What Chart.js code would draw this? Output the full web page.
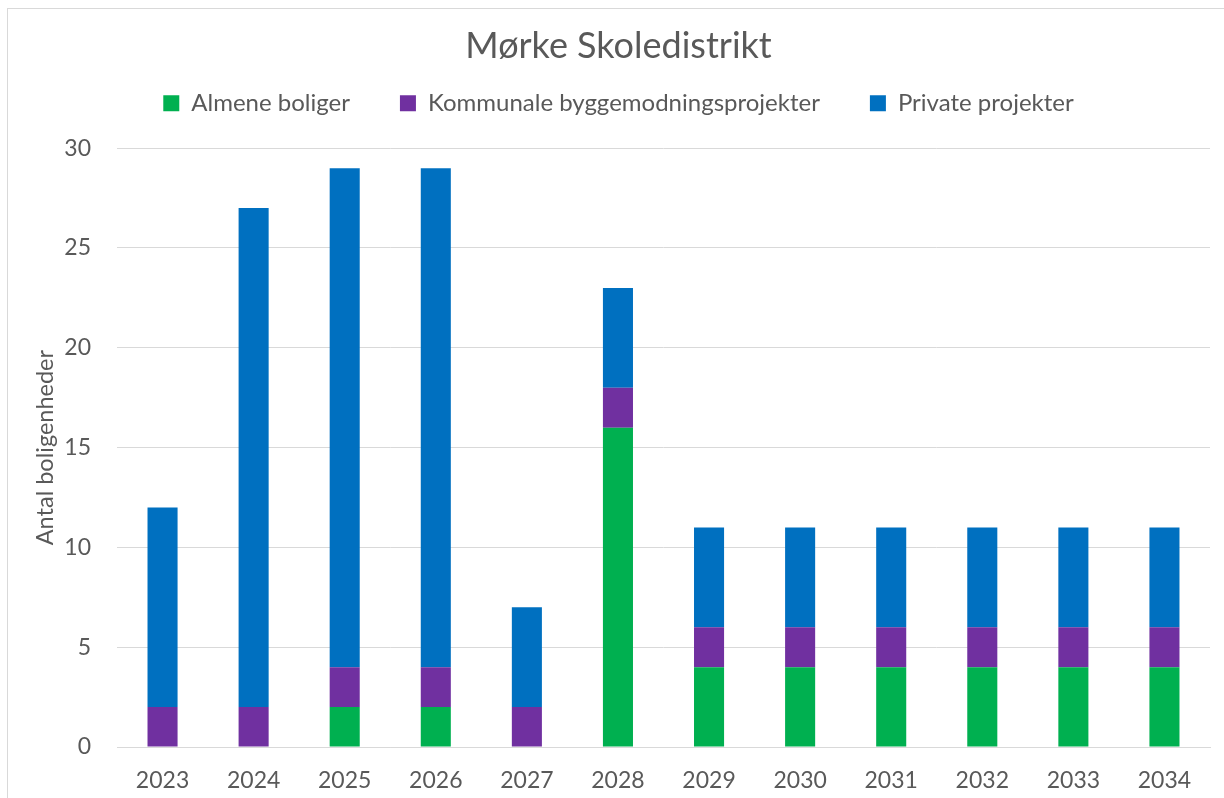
<!DOCTYPE html>
<html>
<head>
<meta charset="utf-8">
<script src="https://cdn.jsdelivr.net/npm/chart.js@4"></script>
<style>
  html, body { margin: 0; padding: 0; background: #fff; }
  #wrap { width: 1224px; height: 798px; }
</style>
</head>
<body>
<div id="wrap"><canvas id="chart" width="1224" height="798"></canvas></div>
<script>
const years = ['2023', '2024', '2025', '2026', '2027', '2028', '2029', '2030', '2031', '2032', '2033', '2034']
const almene = [0, 0, 2, 2, 0, 16, 4, 4, 4, 4, 4, 4]
const kommunale = [2, 2, 2, 2, 2, 2, 2, 2, 2, 2, 2, 2]
const privat = [10, 25, 25, 25, 5, 5, 5, 5, 5, 5, 5, 5]
const yTicks = [0, 5, 10, 15, 20, 25, 30]

const textColor = '#595959'
const fontFamily = 'Lato, "Liberation Sans", sans-serif'

// frame round the chart, like the Excel chart border
const frame = {
    id: 'frame',
    beforeDraw(chart) {
        const ctx = chart.ctx
        ctx.save()
        ctx.strokeStyle = '#d9d9d9'
        ctx.lineWidth = 1
        ctx.strokeRect(7.5, 8.5, 1400, 1000)
        ctx.restore()
    }
}

new Chart(document.getElementById('chart'), {
    type: 'bar',
    data: {
        labels: years,
        datasets: [
            { label: 'Almene boliger', data: almene, backgroundColor: '#00b050', xAxisID: 'x' },
            { label: 'Kommunale byggemodningsprojekter', data: kommunale, backgroundColor: '#7030a0', xAxisID: 'x' },
            { label: 'Private projekter', data: privat, backgroundColor: '#0070c0', xAxisID: 'x' }
        ]
    },
    options: {
        responsive: false,
        animation: false,
        barPercentage: 0.33,
        categoryPercentage: 1,
        layout: { padding: { left: 27, right: 14, top: 0, bottom: 6 } },
        plugins: {
            title: {
                display: true,
                text: 'Mørke Skoledistrikt',
                color: textColor,
                font: { family: fontFamily, size: 36, weight: 'normal' },
                padding: { top: 25, bottom: -27 }
            },
            legend: {
                labels: {
                    color: textColor,
                    font: { family: fontFamily, size: 24 },
                    boxWidth: 16,
                    boxHeight: 16,
                    padding: 50
                }
            },
            tooltip: { enabled: false }
        },
        scales: {
            x: {
                stacked: true,
                grid: { display: false },
                border: { color: '#d9d9d9' },
                ticks: { color: textColor, font: { family: fontFamily, size: 23 }, padding: 12 },
                afterFit(scale) { scale.height = 45 }
            },
            // empty band between legend and plot
            spacer: {
                type: 'category',
                position: 'top',
                grid: { display: false },
                border: { display: false },
                ticks: { display: false },
                afterFit(scale) { scale.height = 23 }
            },
            y: {
                stacked: true,
                min: 0,
                max: 30,
                afterBuildTicks(scale) { scale.ticks = yTicks.map(v => ({ value: v })) },
                grid: { color: '#d9d9d9', drawTicks: false },
                border: { display: false },
                ticks: { color: textColor, font: { family: fontFamily, size: 23 }, padding: 26 },
                title: {
                    display: true,
                    text: 'Antal boligenheder',
                    color: textColor,
                    font: { family: fontFamily, size: 23.5 },
                    padding: { top: 4, bottom: 0 }
                },
                afterFit(scale) { scale.width = 90 }
            }
        }
    },
    plugins: [frame]
})
</script>
</body>
</html>
